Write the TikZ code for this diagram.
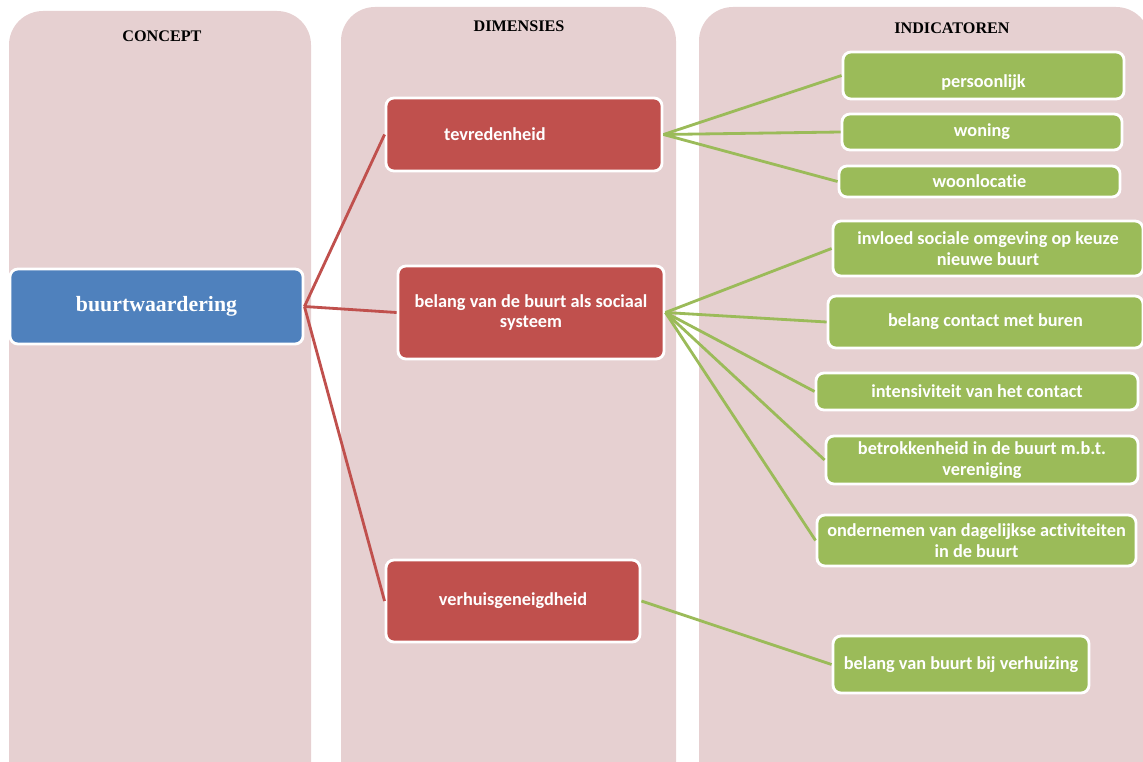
\documentclass[tikz,border=0pt]{standalone}
\usepackage{fontspec}
\setmainfont{Liberation Serif}
\newfontfamily\calibri[Ligatures=NoCommon]{Carlito}
\definecolor{paneel}{RGB}{230,208,209}
\definecolor{blauw}{RGB}{79,129,189}
\definecolor{rood}{RGB}{192,80,77}
\definecolor{groen}{RGB}{155,187,89}

\begin{document}
\begin{tikzpicture}[x=0.025cm, y=-0.025cm,
		kolom/.style={fill=paneel, rounded corners=0.85cm},
		titel/.style={font=\bfseries\fontsize{11.5}{13}\selectfont},
		vak/.style={draw=white, line width=2pt, rounded corners=0.2cm, text=white, align=center, inner sep=0pt, font=\calibri\bfseries\fontsize{13}{14.5}\selectfont},
		concept/.style={vak, fill=blauw, font=\bfseries\fontsize{15.5}{18}\selectfont},
		dimensie/.style={vak, fill=rood},
		indicator/.style={vak, fill=groen},
		roodlijn/.style={draw=rood, line width=2pt},
		groenlijn/.style={draw=groen, line width=2pt}]
		\clip (0,0) rectangle (1143,762);
		\fill [kolom] (9,11) rectangle (311,820);
		\fill [kolom] (341,7) rectangle (676,820);
		\fill [kolom] (699,7) rectangle (1150,820);
		\node [titel](Concept)at (162,36) {CONCEPT};
		\node [titel](Dimensies)at (519,26) {DIMENSIES};
		\node [titel](Indicatoren)at (952,28) {INDICATOREN};

		\node [concept, minimum width=7.325cm, minimum height=1.875cm](Buurtwaardering)at (156.5,306.5) {buurtwaardering};

		\node [dimensie, minimum width=6.9cm, minimum height=1.825cm](Tevredenheid)at (524,134.5) {tevredenheid\hspace*{1.45cm}};
		\node [dimensie, minimum width=6.65cm, minimum height=2.325cm](Belang)at (531,312.5) {belang van de buurt als sociaal\\systeem};
		\node [dimensie, minimum width=6.35cm, minimum height=2.05cm](Verhuis)at (513,601) {verhuisgeneigdheid};

		\node [indicator, minimum width=7.025cm, minimum height=1.175cm, text height=20pt, text depth=2.5pt](Persoonlijk)at (983.5,75.5) {persoonlijk};
		\node [indicator, minimum width=7cm, minimum height=0.9cm](Woning)at (982,132) {woning};
		\node [indicator, minimum width=7.025cm, minimum height=0.775cm](Woonlocatie)at (979.5,181.5) {woonlocatie};
		\node [indicator, minimum width=7.75cm, minimum height=1.375cm](Invloed)at (988,248.5) {invloed sociale omgeving op keuze\\nieuwe buurt};
		\node [indicator, minimum width=7.875cm, minimum height=1.3cm](Contact)at (985.5,322) {belang contact met buren};
		\node [indicator, minimum width=8.05cm, minimum height=0.925cm](Intensiviteit)at (977,391.5) {intensiviteit van het contact};
		\node [indicator, minimum width=7.8cm, minimum height=1.2cm](Betrokkenheid)at (982,460) {betrokkenheid in de buurt m.b.t.\\vereniging};
		\node [indicator, minimum width=7.975cm, minimum height=1.275cm](Ondernemen)at (976.5,540.5) {ondernemen van dagelijkse activiteiten\\in de buurt};
		\node [indicator, minimum width=6.4cm, minimum height=1.425cm](Verhuizing)at (961,664.5) {belang van buurt bij verhuizing};

		\draw [roodlijn](Buurtwaardering.east)--(Tevredenheid.west);
		\draw [roodlijn](Buurtwaardering.east)--(Belang.west);
		\draw [roodlijn](Buurtwaardering.east)--(Verhuis.west);

		\draw [groenlijn](Tevredenheid.east)--(Persoonlijk.west);
		\draw [groenlijn](Tevredenheid.east)--(Woning.west);
		\draw [groenlijn](Tevredenheid.east)--(Woonlocatie.west);

		\draw [groenlijn](Belang.east)--(Invloed.west);
		\draw [groenlijn](Belang.east)--(Contact.west);
		\draw [groenlijn](Belang.east)--(Intensiviteit.west);
		\draw [groenlijn](Belang.east)--(Betrokkenheid.west);
		\draw [groenlijn](Belang.east)--(Ondernemen.west);

		\draw [groenlijn](Verhuis.east)--(Verhuizing.west);
	\end{tikzpicture}
\end{document}
